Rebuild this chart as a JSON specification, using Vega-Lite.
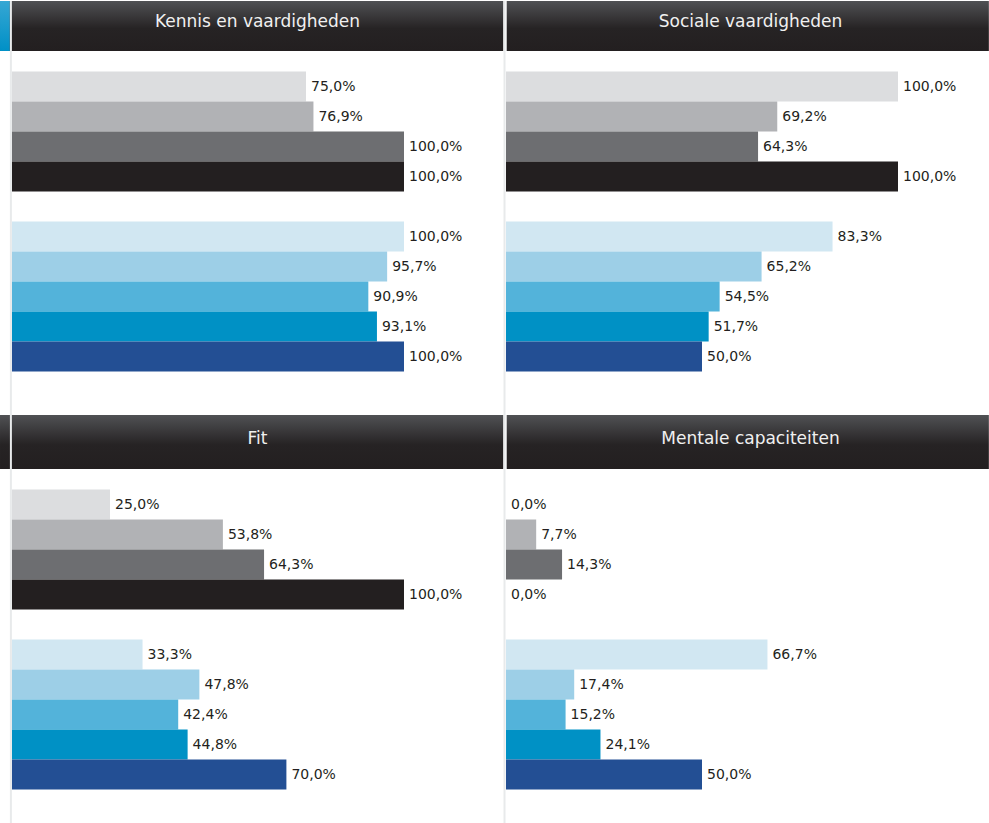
{
  "$schema": "https://vega.github.io/schema/vega-lite/v6.json",
  "padding": 0,
  "bounds": "flush",
  "background": "white",
  "spacing": 0,
  "columns": 2,
  "config": {
    "view": {"stroke": null},
    "concat": {"spacing": 0},
    "locale": {"number": {"decimal": ",", "thousands": ".", "grouping": [3], "currency": ["€", ""]}},
    "text": {"font": "DejaVu Sans"}
  },
  "datasets": {
    "bars": [
      {"panel": "Kennis en vaardigheden", "cat": "A1", "value": 0.75},
      {"panel": "Kennis en vaardigheden", "cat": "A2", "value": 0.769},
      {"panel": "Kennis en vaardigheden", "cat": "A3", "value": 1.0},
      {"panel": "Kennis en vaardigheden", "cat": "A4", "value": 1.0},
      {"panel": "Kennis en vaardigheden", "cat": "B1", "value": 1.0},
      {"panel": "Kennis en vaardigheden", "cat": "B2", "value": 0.957},
      {"panel": "Kennis en vaardigheden", "cat": "B3", "value": 0.909},
      {"panel": "Kennis en vaardigheden", "cat": "B4", "value": 0.931},
      {"panel": "Kennis en vaardigheden", "cat": "B5", "value": 1.0},
      {"panel": "Sociale vaardigheden", "cat": "A1", "value": 1.0},
      {"panel": "Sociale vaardigheden", "cat": "A2", "value": 0.692},
      {"panel": "Sociale vaardigheden", "cat": "A3", "value": 0.643},
      {"panel": "Sociale vaardigheden", "cat": "A4", "value": 1.0},
      {"panel": "Sociale vaardigheden", "cat": "B1", "value": 0.833},
      {"panel": "Sociale vaardigheden", "cat": "B2", "value": 0.652},
      {"panel": "Sociale vaardigheden", "cat": "B3", "value": 0.545},
      {"panel": "Sociale vaardigheden", "cat": "B4", "value": 0.517},
      {"panel": "Sociale vaardigheden", "cat": "B5", "value": 0.5},
      {"panel": "Fit", "cat": "A1", "value": 0.25},
      {"panel": "Fit", "cat": "A2", "value": 0.538},
      {"panel": "Fit", "cat": "A3", "value": 0.643},
      {"panel": "Fit", "cat": "A4", "value": 1.0},
      {"panel": "Fit", "cat": "B1", "value": 0.333},
      {"panel": "Fit", "cat": "B2", "value": 0.478},
      {"panel": "Fit", "cat": "B3", "value": 0.424},
      {"panel": "Fit", "cat": "B4", "value": 0.448},
      {"panel": "Fit", "cat": "B5", "value": 0.7},
      {"panel": "Mentale capaciteiten", "cat": "A1", "value": 0.0},
      {"panel": "Mentale capaciteiten", "cat": "A2", "value": 0.077},
      {"panel": "Mentale capaciteiten", "cat": "A3", "value": 0.143},
      {"panel": "Mentale capaciteiten", "cat": "A4", "value": 0.0},
      {"panel": "Mentale capaciteiten", "cat": "B1", "value": 0.667},
      {"panel": "Mentale capaciteiten", "cat": "B2", "value": 0.174},
      {"panel": "Mentale capaciteiten", "cat": "B3", "value": 0.152},
      {"panel": "Mentale capaciteiten", "cat": "B4", "value": 0.241},
      {"panel": "Mentale capaciteiten", "cat": "B5", "value": 0.5}
    ]
  },
  "concat": [
        {
          "width": 505, "height": 414,
          "layer": [
            {
              "data": {"values": [{"title": "Kennis en vaardigheden"}]},
              "layer": [
                {
                  "mark": {"type": "rect", "fill": {"gradient": "linear", "x1": 0, "y1": 0, "x2": 0, "y2": 1, "stops": [{"offset": 0, "color": "#505154"}, {"offset": 0.55, "color": "#262324"}, {"offset": 1, "color": "#231f20"}]}},
                  "encoding": {
                    "x": {"datum": -0.0306, "type": "quantitative", "scale": {"domain": [0, 1], "range": [12, 404], "nice": false, "zero": false}, "axis": null},
                    "x2": {"datum": 1.2533},
                    "y": {"datum": 0, "type": "quantitative", "scale": {"domain": [0, 1], "range": [0, 50], "nice": false}, "axis": null},
                    "y2": {"datum": 1}
                  }
                },
                {
                  "mark": {"type": "rect", "fill": {"gradient": "linear", "x1": 0, "y1": 0, "x2": 0, "y2": 1, "stops": [{"offset": 0, "color": "#36a7d4"}, {"offset": 1, "color": "#0090c6"}]}},
                  "encoding": {
                    "x": {"datum": -0.0306, "type": "quantitative", "scale": {"domain": [0, 1], "range": [12, 404], "nice": false, "zero": false}, "axis": null},
                    "x2": {"datum": -0.0056},
                    "y": {"datum": 0, "type": "quantitative", "scale": {"domain": [0, 1], "range": [0, 50], "nice": false}, "axis": null},
                    "y2": {"datum": 1}
                  }
                },
                {
                  "mark": {"type": "text", "align": "center", "baseline": "middle", "fontSize": 17, "color": "#f0f0f0"},
                  "encoding": {
                    "x": {"datum": 0.6263, "type": "quantitative", "scale": {"domain": [0, 1], "range": [12, 404], "nice": false, "zero": false}, "axis": null},
                    "y": {"datum": 0.41, "type": "quantitative", "scale": {"domain": [0, 1], "range": [0, 50], "nice": false}, "axis": null},
                    "text": {"field": "title"}
                  }
                },
                {
                  "mark": {"type": "rule", "color": "#e8eaeb", "strokeWidth": 2},
                  "encoding": {
                    "x": {"datum": -0.0028, "type": "quantitative", "scale": {"domain": [0, 1], "range": [12, 404], "nice": false, "zero": false}, "axis": null}
                  }
                },
                {
                  "mark": {"type": "rule", "color": "#e8eaeb", "strokeWidth": 2},
                  "encoding": {
                    "x": {"datum": 1.2564, "type": "quantitative", "scale": {"domain": [0, 1], "range": [12, 404], "nice": false, "zero": false}, "axis": null}
                  }
                }
              ]
            },
            {
              "data": {"name": "bars"},
              "transform": [{"filter": {"field": "panel", "equal": "Kennis en vaardigheden"}}],
              "layer": [
                {"mark": {"type": "bar"},
                 "encoding": {
                   "x": {"field": "value", "type": "quantitative", "scale": {"domain": [0, 1], "range": [12, 404], "nice": false, "zero": false}, "axis": null},
                   "y": {"field": "cat", "type": "nominal", "scale": {"domain": ["A1", "A2", "A3", "A4", "gap", "B1", "B2", "B3", "B4", "B5"], "range": [70.5, 370.5], "paddingInner": 0, "paddingOuter": 0}, "axis": null},
                   "color": {"field": "cat", "type": "nominal", "scale": {"domain": ["A1", "A2", "A3", "A4", "B1", "B2", "B3", "B4", "B5"], "range": ["#dcdddf", "#b1b2b5", "#6d6e71", "#231f20", "#d1e7f2", "#9dcfe7", "#53b3da", "#0091c5", "#234f94"]}, "legend": null}
                 }},
                {"mark": {"type": "text", "align": "left", "baseline": "middle", "dx": 5, "fontSize": 14, "color": "#231f20"},
                 "encoding": {
                   "x": {"field": "value", "type": "quantitative", "scale": {"domain": [0, 1], "range": [12, 404], "nice": false, "zero": false}, "axis": null},
                   "y": {"field": "cat", "type": "nominal", "scale": {"domain": ["A1", "A2", "A3", "A4", "gap", "B1", "B2", "B3", "B4", "B5"], "range": [70.5, 370.5], "paddingInner": 0, "paddingOuter": 0}, "axis": null},
                   "text": {"field": "value", "type": "quantitative", "format": ".1%"}
                 }}
              ]
            }
          ],
          "resolve": {"scale": {"y": "independent"}}
        },
        {
          "width": 484, "height": 414,
          "layer": [
            {
              "data": {"values": [{"title": "Sociale vaardigheden"}]},
              "layer": [
                {
                  "mark": {"type": "rect", "fill": {"gradient": "linear", "x1": 0, "y1": 0, "x2": 0, "y2": 1, "stops": [{"offset": 0, "color": "#505154"}, {"offset": 0.55, "color": "#262324"}, {"offset": 1, "color": "#231f20"}]}},
                  "encoding": {
                    "x": {"datum": 0.0018, "type": "quantitative", "scale": {"domain": [0, 1], "range": [1, 393], "nice": false, "zero": false}, "axis": null},
                    "x2": {"datum": 1.2318},
                    "y": {"datum": 0, "type": "quantitative", "scale": {"domain": [0, 1], "range": [0, 50], "nice": false}, "axis": null},
                    "y2": {"datum": 1}
                  }
                },
                {
                  "mark": {"type": "text", "align": "center", "baseline": "middle", "fontSize": 17, "color": "#f0f0f0"},
                  "encoding": {
                    "x": {"datum": 0.6237, "type": "quantitative", "scale": {"domain": [0, 1], "range": [1, 393], "nice": false, "zero": false}, "axis": null},
                    "y": {"datum": 0.41, "type": "quantitative", "scale": {"domain": [0, 1], "range": [0, 50], "nice": false}, "axis": null},
                    "text": {"field": "title"}
                  }
                }
              ]
            },
            {
              "data": {"name": "bars"},
              "transform": [{"filter": {"field": "panel", "equal": "Sociale vaardigheden"}}],
              "layer": [
                {"mark": {"type": "bar"},
                 "encoding": {
                   "x": {"field": "value", "type": "quantitative", "scale": {"domain": [0, 1], "range": [1, 393], "nice": false, "zero": false}, "axis": null},
                   "y": {"field": "cat", "type": "nominal", "scale": {"domain": ["A1", "A2", "A3", "A4", "gap", "B1", "B2", "B3", "B4", "B5"], "range": [70.5, 370.5], "paddingInner": 0, "paddingOuter": 0}, "axis": null},
                   "color": {"field": "cat", "type": "nominal", "scale": {"domain": ["A1", "A2", "A3", "A4", "B1", "B2", "B3", "B4", "B5"], "range": ["#dcdddf", "#b1b2b5", "#6d6e71", "#231f20", "#d1e7f2", "#9dcfe7", "#53b3da", "#0091c5", "#234f94"]}, "legend": null}
                 }},
                {"mark": {"type": "text", "align": "left", "baseline": "middle", "dx": 5, "fontSize": 14, "color": "#231f20"},
                 "encoding": {
                   "x": {"field": "value", "type": "quantitative", "scale": {"domain": [0, 1], "range": [1, 393], "nice": false, "zero": false}, "axis": null},
                   "y": {"field": "cat", "type": "nominal", "scale": {"domain": ["A1", "A2", "A3", "A4", "gap", "B1", "B2", "B3", "B4", "B5"], "range": [70.5, 370.5], "paddingInner": 0, "paddingOuter": 0}, "axis": null},
                   "text": {"field": "value", "type": "quantitative", "format": ".1%"}
                 }}
              ]
            }
          ],
          "resolve": {"scale": {"y": "independent"}}
        },
        {
          "width": 505, "height": 409,
          "layer": [
            {
              "data": {"values": [{"title": "Fit"}]},
              "layer": [
                {
                  "mark": {"type": "rect", "fill": {"gradient": "linear", "x1": 0, "y1": 0, "x2": 0, "y2": 1, "stops": [{"offset": 0, "color": "#505154"}, {"offset": 0.55, "color": "#262324"}, {"offset": 1, "color": "#231f20"}]}},
                  "encoding": {
                    "x": {"datum": -0.0306, "type": "quantitative", "scale": {"domain": [0, 1], "range": [12, 404], "nice": false, "zero": false}, "axis": null},
                    "x2": {"datum": 1.2533},
                    "y": {"datum": 0, "type": "quantitative", "scale": {"domain": [0, 1], "range": [0, 54], "nice": false}, "axis": null},
                    "y2": {"datum": 1}
                  }
                },
                {
                  "mark": {"type": "text", "align": "center", "baseline": "middle", "fontSize": 17, "color": "#f0f0f0"},
                  "encoding": {
                    "x": {"datum": 0.6263, "type": "quantitative", "scale": {"domain": [0, 1], "range": [12, 404], "nice": false, "zero": false}, "axis": null},
                    "y": {"datum": 0.444, "type": "quantitative", "scale": {"domain": [0, 1], "range": [0, 54], "nice": false}, "axis": null},
                    "text": {"field": "title"}
                  }
                },
                {
                  "mark": {"type": "rule", "color": "#e8eaeb", "strokeWidth": 2},
                  "encoding": {
                    "x": {"datum": -0.0028, "type": "quantitative", "scale": {"domain": [0, 1], "range": [12, 404], "nice": false, "zero": false}, "axis": null}
                  }
                },
                {
                  "mark": {"type": "rule", "color": "#e8eaeb", "strokeWidth": 2},
                  "encoding": {
                    "x": {"datum": 1.2564, "type": "quantitative", "scale": {"domain": [0, 1], "range": [12, 404], "nice": false, "zero": false}, "axis": null}
                  }
                }
              ]
            },
            {
              "data": {"name": "bars"},
              "transform": [{"filter": {"field": "panel", "equal": "Fit"}}],
              "layer": [
                {"mark": {"type": "bar"},
                 "encoding": {
                   "x": {"field": "value", "type": "quantitative", "scale": {"domain": [0, 1], "range": [12, 404], "nice": false, "zero": false}, "axis": null},
                   "y": {"field": "cat", "type": "nominal", "scale": {"domain": ["A1", "A2", "A3", "A4", "gap", "B1", "B2", "B3", "B4", "B5"], "range": [74.5, 374.5], "paddingInner": 0, "paddingOuter": 0}, "axis": null},
                   "color": {"field": "cat", "type": "nominal", "scale": {"domain": ["A1", "A2", "A3", "A4", "B1", "B2", "B3", "B4", "B5"], "range": ["#dcdddf", "#b1b2b5", "#6d6e71", "#231f20", "#d1e7f2", "#9dcfe7", "#53b3da", "#0091c5", "#234f94"]}, "legend": null}
                 }},
                {"mark": {"type": "text", "align": "left", "baseline": "middle", "dx": 5, "fontSize": 14, "color": "#231f20"},
                 "encoding": {
                   "x": {"field": "value", "type": "quantitative", "scale": {"domain": [0, 1], "range": [12, 404], "nice": false, "zero": false}, "axis": null},
                   "y": {"field": "cat", "type": "nominal", "scale": {"domain": ["A1", "A2", "A3", "A4", "gap", "B1", "B2", "B3", "B4", "B5"], "range": [74.5, 374.5], "paddingInner": 0, "paddingOuter": 0}, "axis": null},
                   "text": {"field": "value", "type": "quantitative", "format": ".1%"}
                 }}
              ]
            }
          ],
          "resolve": {"scale": {"y": "independent"}}
        },
        {
          "width": 484, "height": 409,
          "layer": [
            {
              "data": {"values": [{"title": "Mentale capaciteiten"}]},
              "layer": [
                {
                  "mark": {"type": "rect", "fill": {"gradient": "linear", "x1": 0, "y1": 0, "x2": 0, "y2": 1, "stops": [{"offset": 0, "color": "#505154"}, {"offset": 0.55, "color": "#262324"}, {"offset": 1, "color": "#231f20"}]}},
                  "encoding": {
                    "x": {"datum": 0.0018, "type": "quantitative", "scale": {"domain": [0, 1], "range": [1, 393], "nice": false, "zero": false}, "axis": null},
                    "x2": {"datum": 1.2318},
                    "y": {"datum": 0, "type": "quantitative", "scale": {"domain": [0, 1], "range": [0, 54], "nice": false}, "axis": null},
                    "y2": {"datum": 1}
                  }
                },
                {
                  "mark": {"type": "text", "align": "center", "baseline": "middle", "fontSize": 17, "color": "#f0f0f0"},
                  "encoding": {
                    "x": {"datum": 0.6237, "type": "quantitative", "scale": {"domain": [0, 1], "range": [1, 393], "nice": false, "zero": false}, "axis": null},
                    "y": {"datum": 0.444, "type": "quantitative", "scale": {"domain": [0, 1], "range": [0, 54], "nice": false}, "axis": null},
                    "text": {"field": "title"}
                  }
                }
              ]
            },
            {
              "data": {"name": "bars"},
              "transform": [{"filter": {"field": "panel", "equal": "Mentale capaciteiten"}}],
              "layer": [
                {"mark": {"type": "bar"},
                 "encoding": {
                   "x": {"field": "value", "type": "quantitative", "scale": {"domain": [0, 1], "range": [1, 393], "nice": false, "zero": false}, "axis": null},
                   "y": {"field": "cat", "type": "nominal", "scale": {"domain": ["A1", "A2", "A3", "A4", "gap", "B1", "B2", "B3", "B4", "B5"], "range": [74.5, 374.5], "paddingInner": 0, "paddingOuter": 0}, "axis": null},
                   "color": {"field": "cat", "type": "nominal", "scale": {"domain": ["A1", "A2", "A3", "A4", "B1", "B2", "B3", "B4", "B5"], "range": ["#dcdddf", "#b1b2b5", "#6d6e71", "#231f20", "#d1e7f2", "#9dcfe7", "#53b3da", "#0091c5", "#234f94"]}, "legend": null}
                 }},
                {"mark": {"type": "text", "align": "left", "baseline": "middle", "dx": 5, "fontSize": 14, "color": "#231f20"},
                 "encoding": {
                   "x": {"field": "value", "type": "quantitative", "scale": {"domain": [0, 1], "range": [1, 393], "nice": false, "zero": false}, "axis": null},
                   "y": {"field": "cat", "type": "nominal", "scale": {"domain": ["A1", "A2", "A3", "A4", "gap", "B1", "B2", "B3", "B4", "B5"], "range": [74.5, 374.5], "paddingInner": 0, "paddingOuter": 0}, "axis": null},
                   "text": {"field": "value", "type": "quantitative", "format": ".1%"}
                 }}
              ]
            }
          ],
          "resolve": {"scale": {"y": "independent"}}
        }
  ]
}
